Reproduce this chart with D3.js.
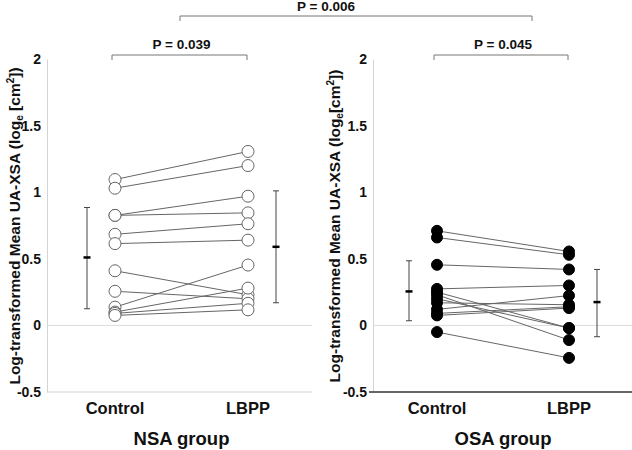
<!DOCTYPE html>
<html><head><meta charset="utf-8">
<script src="https://cdn.jsdelivr.net/npm/d3@7"></script>
<style>
body{margin:0;background:#fff;}
svg{display:block;font-family:"Liberation Sans",Arial,sans-serif;}
</style></head>
<body><svg id="c" width="632" height="450"></svg>
<script>
// ---- data ----
const conditions = ["Control", "LBPP"];
const groups = ["NSA group", "OSA group"];
const yTicks = [-0.5, 0, 0.5, 1, 1.5, 2];
const yTickLabels = ["-0.5", "0", "0.5", "1", "1.5", "2"];
const nsaControl = [1.095, 1.03, 0.826, 0.826, 0.684, 0.614, 0.41, 0.256, 0.137, 0.10, 0.09, 0.075];
const nsaLBPP    = [1.306, 1.20, 0.97, 0.845, 0.763, 0.64, 0.23, 0.20, 0.453, 0.28, 0.166, 0.117];
const osaControl = [0.71, 0.66, 0.455, 0.274, 0.25, 0.23, 0.20, 0.17, 0.12, 0.09, 0.075, -0.05];
const osaLBPP    = [0.555, 0.53, 0.42, 0.30, -0.02, -0.11, -0.02, 0.155, 0.224, 0.14, 0.13, -0.244];
const nsaMean = [0.51, 0.59], nsaLow = [0.125, 0.17], nsaHigh = [0.885, 1.01];
const osaMean = [0.255, 0.175], osaLow = [0.035, -0.085], osaHigh = [0.485, 0.42];
const pLabels = ["P = 0.039", "P = 0.045", "P = 0.006"];

const svg = d3.select("#c");
const y = d3.scaleLinear().domain([-0.5, 2]).range([392, 59]);

const panels = [
  {ctrl: nsaControl, lbpp: nsaLBPP, mean: nsaMean, low: nsaLow, high: nsaHigh, filled: false,
   axisX: 47, right: 312, x: d3.scalePoint().domain(conditions).range([115, 248]), ebOff: 28,
   labelX: 20, bottomDark: false},
  {ctrl: osaControl, lbpp: osaLBPP, mean: osaMean, low: osaLow, high: osaHigh, filled: true,
   axisX: 373, right: 632, x: d3.scalePoint().domain(conditions).range([437, 569]), ebOff: 28,
   labelX: 340, bottomDark: true}
];

panels.forEach((p, pi) => {
  const g = svg.append("g");
  // y axis
  const ax = g.append("g").attr("transform", `translate(${p.axisX},0)`)
    .call(d3.axisLeft(y).tickValues(yTicks).tickSize(0).tickPadding(6)
      .tickFormat((d, i) => yTickLabels[i]));
  ax.select(".domain").attr("stroke", "#d4d4d4");
  ax.selectAll("text").attr("font-size", 14).attr("font-weight", "bold").attr("fill", "#111");
  // zero line
  g.append("line").attr("x1", p.axisX).attr("x2", p.right).attr("y1", y(0)).attr("y2", y(0))
    .attr("stroke", "#dcdcdc").attr("stroke-width", 1);
  // bottom line
  g.append("line").attr("x1", p.bottomDark ? p.axisX - 4 : p.axisX).attr("x2", p.right)
    .attr("y1", y(-0.5)).attr("y2", y(-0.5))
    .attr("stroke", p.bottomDark ? "#333" : "#d4d4d4").attr("stroke-width", p.bottomDark ? 1.5 : 1);
  // y label
  const lab = g.append("text").attr("transform", `translate(${p.labelX},226) rotate(-90)`)
    .attr("text-anchor", "middle").attr("font-size", 15.5).attr("font-weight", "bold").attr("fill", "#111");
  lab.append("tspan").text("Log-transformed Mean UA-XSA (log");
  lab.append("tspan").attr("font-size", 10).attr("dy", 3).text("e");
  lab.append("tspan").attr("dy", -3).text(pi === 0 ? " [cm" : "[cm");
  lab.append("tspan").attr("font-size", 10).attr("dy", -6).text("2");
  lab.append("tspan").attr("dy", 6).text("])");
  // connecting lines
  const xc = p.x("Control"), xl = p.x("LBPP");
  g.selectAll("line.pair").data(d3.range(p.ctrl.length)).join("line").attr("class", "pair")
    .attr("x1", xc).attr("x2", xl)
    .attr("y1", i => y(p.ctrl[i])).attr("y2", i => y(p.lbpp[i]))
    .attr("stroke", "#666").attr("stroke-width", 1);
  // points
  [[p.ctrl, xc], [p.lbpp, xl]].forEach(([vals, xx]) => {
    g.selectAll(null).data(vals).join("circle")
      .attr("cx", xx).attr("cy", d => y(d)).attr("r", p.filled ? 5.5 : 6)
      .attr("fill", p.filled ? "#000" : "#fff")
      .attr("stroke", p.filled ? "#000" : "#666").attr("stroke-width", 1);
  });
  // error bars
  conditions.forEach((c, ci) => {
    const ex = p.x(c) + (ci === 0 ? -p.ebOff : p.ebOff);
    g.append("line").attr("x1", ex).attr("x2", ex).attr("y1", y(p.low[ci])).attr("y2", y(p.high[ci]))
      .attr("stroke", "#444").attr("stroke-width", 1);
    [p.low[ci], p.high[ci]].forEach(v => g.append("line").attr("x1", ex - 3).attr("x2", ex + 3)
      .attr("y1", y(v)).attr("y2", y(v)).attr("stroke", "#444").attr("stroke-width", 1));
    g.append("line").attr("x1", ex - 3.5).attr("x2", ex + 3.5).attr("y1", y(p.mean[ci])).attr("y2", y(p.mean[ci]))
      .attr("stroke", "#000").attr("stroke-width", 2.5);
  });
  // category labels
  conditions.forEach(c => g.append("text").attr("x", p.x(c)).attr("y", 414).attr("text-anchor", "middle")
    .attr("font-size", 16.5).attr("font-weight", "bold").attr("fill", "#111").text(c));
  g.append("text").attr("x", (xc + xl) / 2).attr("y", 445).attr("text-anchor", "middle")
    .attr("font-size", 18.5).attr("font-weight", "bold").attr("fill", "#111").text(groups[pi]);
  // bracket
  const by = 55;
  g.append("path").attr("d", `M${xc - 3},${by + 5}V${by}H${xl - 1}V${by + 5}`)
    .attr("fill", "none").attr("stroke", "#777").attr("stroke-width", 1);
  g.append("text").attr("x", (xc + xl) / 2).attr("y", by - 6).attr("text-anchor", "middle")
    .attr("font-size", 13.5).attr("font-weight", "bold").attr("fill", "#111").text(pLabels[pi]);
});
// top bracket
const tx1 = 180, tx2 = 532, ty = 16;
svg.append("path").attr("d", `M${tx1},${ty + 5}V${ty}H${tx2}V${ty + 5}`)
  .attr("fill", "none").attr("stroke", "#777").attr("stroke-width", 1);
svg.append("text").attr("x", 326).attr("y", ty - 5).attr("text-anchor", "middle")
  .attr("font-size", 13.5).attr("font-weight", "bold").attr("fill", "#111").text(pLabels[2]);
</script></body></html>
